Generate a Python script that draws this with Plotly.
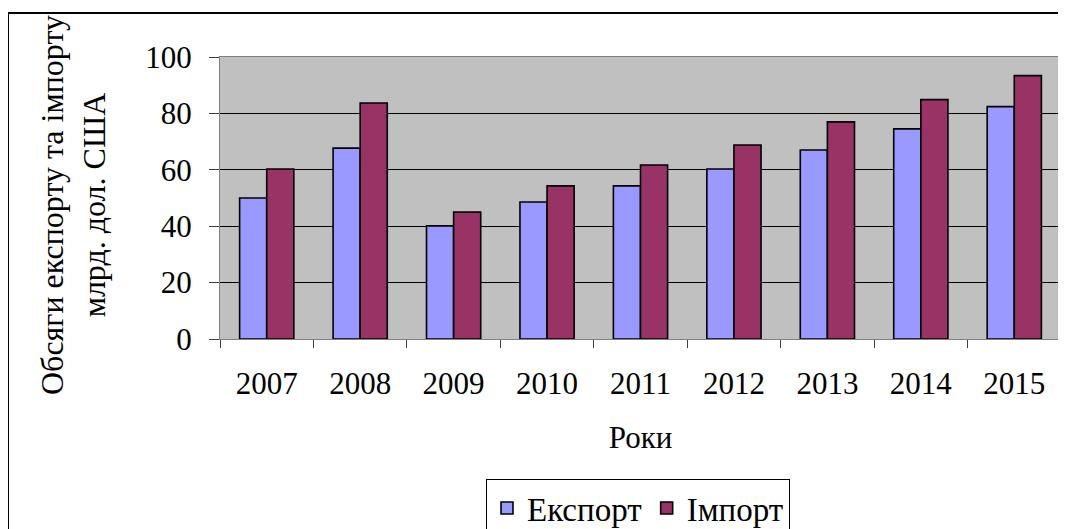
import plotly.graph_objects as go

years = ["2007", "2008", "2009", "2010", "2011", "2012", "2013", "2014", "2015"]
export_vals = [50.0, 67.7, 40.1, 48.6, 54.3, 60.3, 67.0, 74.5, 82.4]
import_vals = [60.3, 83.7, 45.0, 54.3, 61.7, 68.8, 77.0, 84.9, 93.4]
y_ticks = [0, 20, 40, 60, 80, 100]

FONT = "'Times New Roman', 'Liberation Serif', 'DejaVu Serif', serif"
OFF = 8  # page body margin
W, H = 1058, 521
ML, MR, MT, MB = 212, 5, 49, 190
PW, PH = W - ML - MR, H - MT - MB

def px(x):
    return (x - OFF - ML) / PW

def py(y):
    return (H - MB - (y - OFF)) / PH

fig = go.Figure()
fig.add_trace(go.Bar(name="Експорт", x=years, y=export_vals,
                     marker=dict(color="#9999FF", line=dict(color="black", width=1.6))))
fig.add_trace(go.Bar(name="Імпорт", x=years, y=import_vals,
                     marker=dict(color="#993366", line=dict(color="black", width=1.6))))

fig.update_layout(
    width=W, height=H,
    margin=dict(l=ML, r=MR, t=MT, b=MB, pad=0, autoexpand=False),
    paper_bgcolor="white", plot_bgcolor="#C0C0C0",
    barmode="group", bargap=0.42, bargroupgap=0,
    font=dict(family=FONT, color="black", size=31),
    showlegend=True,
    legend=dict(orientation="h", x=px(638), xanchor="center", y=py(508), yanchor="middle",
                bgcolor="white", bordercolor="black", borderwidth=1,
                font=dict(size=33, family=FONT), itemwidth=30, traceorder="normal"),
    xaxis=dict(type="category", showgrid=False, ticks="outside", tickson="boundaries",
               ticklen=8, tickcolor="#404040", linecolor="#808080", linewidth=1, mirror=True,
               tickfont=dict(size=31, family=FONT), ticklabelstandoff=17,
               title=dict(text="Роки", font=dict(size=31, family=FONT), standoff=26)),
    yaxis=dict(range=[0, 100], tickvals=y_ticks, ticks="outside", ticklen=10, tickcolor="#404040",
               showgrid=True, gridcolor="black", gridwidth=1, zeroline=False,
               linecolor="#808080", linewidth=1, mirror=True,
               tickfont=dict(size=31, family=FONT), ticklabelstandoff=11),
    annotations=[dict(text="Обсяги експорту та імпорту<br>млрд. дол. США", textangle=-90,
                      xref="paper", yref="paper", x=px(73), y=py(205),
                      xanchor="center", yanchor="middle", showarrow=False,
                      font=dict(size=32, family=FONT))],
    shapes=[dict(type="rect", xref="paper", yref="paper",
                 x0=px(8), x1=px(1080), y0=py(13), y1=py(545),
                 line=dict(color="black", width=2), fillcolor="rgba(0,0,0,0)", layer="below")],
)

fig.write_html("out.html")
